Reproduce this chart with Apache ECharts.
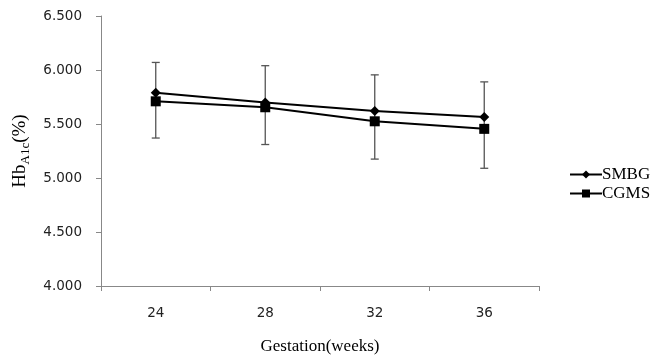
<!DOCTYPE html>
<html><head><meta charset="utf-8">
<script src="https://cdn.jsdelivr.net/npm/echarts@6/dist/echarts.min.js"></script>
<style>html,body{margin:0;padding:0;background:#fff}#c{width:650px;height:356px}</style>
</head><body><div id="c"></div>
<script>
const categories = ['24', '28', '32', '36'];
const smbg = [5.79, 5.70, 5.62, 5.565];
const cgms = [5.71, 5.655, 5.525, 5.455];
const errUpper = [6.07, 6.04, 5.955, 5.89];
const errLower = [5.37, 5.31, 5.175, 5.09];
const yTicks = [4.0, 4.5, 5.0, 5.5, 6.0, 6.5];

const chart = echarts.init(document.getElementById('c'));
const errData = categories.map((c, i) => [i, errLower[i], errUpper[i]]);
chart.setOption({
  animation: false,
  grid: {left: 101, right: 111, top: 16, bottom: 70, containLabel: false, outerBoundsMode: 'none'},
  legend: {
    orient: 'vertical', left: 564, top: 161, itemGap: 2,
    itemWidth: 32, itemHeight: 10,
    textStyle: {fontFamily: 'Liberation Serif', fontSize: 17, color: '#000', padding: [0,0,0,-5]},
    data: ['SMBG', 'CGMS']
  },
  xAxis: {
    type: 'category', data: categories, boundaryGap: true,
    name: 'Gestation(weeks)', nameLocation: 'middle', nameGap: 52,
    nameTextStyle: {fontFamily: 'Liberation Serif', fontSize: 17, color: '#000'},
    axisLine: {lineStyle: {color: '#888', width: 1}},
    axisTick: {show: true, length: 5, lineStyle: {color: '#888'}},
    axisLabel: {fontFamily: 'DejaVu Sans', fontSize: 13.5, color: '#222', margin: 20},
    splitLine: {show: false}
  },
  yAxis: {
    type: 'value', min: 4, max: 6.5, interval: 0.5,
    name: '{a|Hb}{b|A1c}{a|(%)}', nameLocation: 'middle', nameGap: 64, nameRotate: 90,
    nameTextStyle: {
      rich: {
        a: {fontFamily: 'Liberation Serif', fontSize: 19, color: '#000', lineHeight: 24},
        b: {fontFamily: 'Liberation Serif', fontSize: 13, color: '#000', verticalAlign: 'bottom', lineHeight: 13}
      }
    },
    axisLine: {show: true, lineStyle: {color: '#888', width: 1}},
    axisTick: {show: true, length: 5, lineStyle: {color: '#888'}},
    axisLabel: {fontFamily: 'DejaVu Sans', fontSize: 13.5, color: '#222', margin: 19,
      formatter: v => v.toFixed(3)},
    splitLine: {show: false}
  },
  series: [
    {
      type: 'custom', name: 'err', silent: true, z: 1,
      data: errData,
      renderItem: function (params, api) {
        const x = api.value(0);
        const lo = api.coord([x, api.value(1)]);
        const hi = api.coord([x, api.value(2)]);
        const cw = 4;
        const st = {stroke: '#555', lineWidth: 1.3};
        return {type: 'group', children: [
          {type: 'line', shape: {x1: lo[0], y1: lo[1], x2: hi[0], y2: hi[1]}, style: st},
          {type: 'line', shape: {x1: hi[0]-cw, y1: hi[1], x2: hi[0]+cw, y2: hi[1]}, style: st},
          {type: 'line', shape: {x1: lo[0]-cw, y1: lo[1], x2: lo[0]+cw, y2: lo[1]}, style: st}
        ]};
      }
    },
    {
      type: 'line', name: 'SMBG', data: smbg, z: 3,
      symbol: 'diamond', symbolSize: 10,
      lineStyle: {color: '#000', width: 2},
      itemStyle: {color: '#000'}
    },
    {
      type: 'line', name: 'CGMS', data: cgms, z: 3,
      symbol: 'rect', symbolSize: 10,
      lineStyle: {color: '#000', width: 2},
      itemStyle: {color: '#000'}
    }
  ]
});
</script></body></html>
